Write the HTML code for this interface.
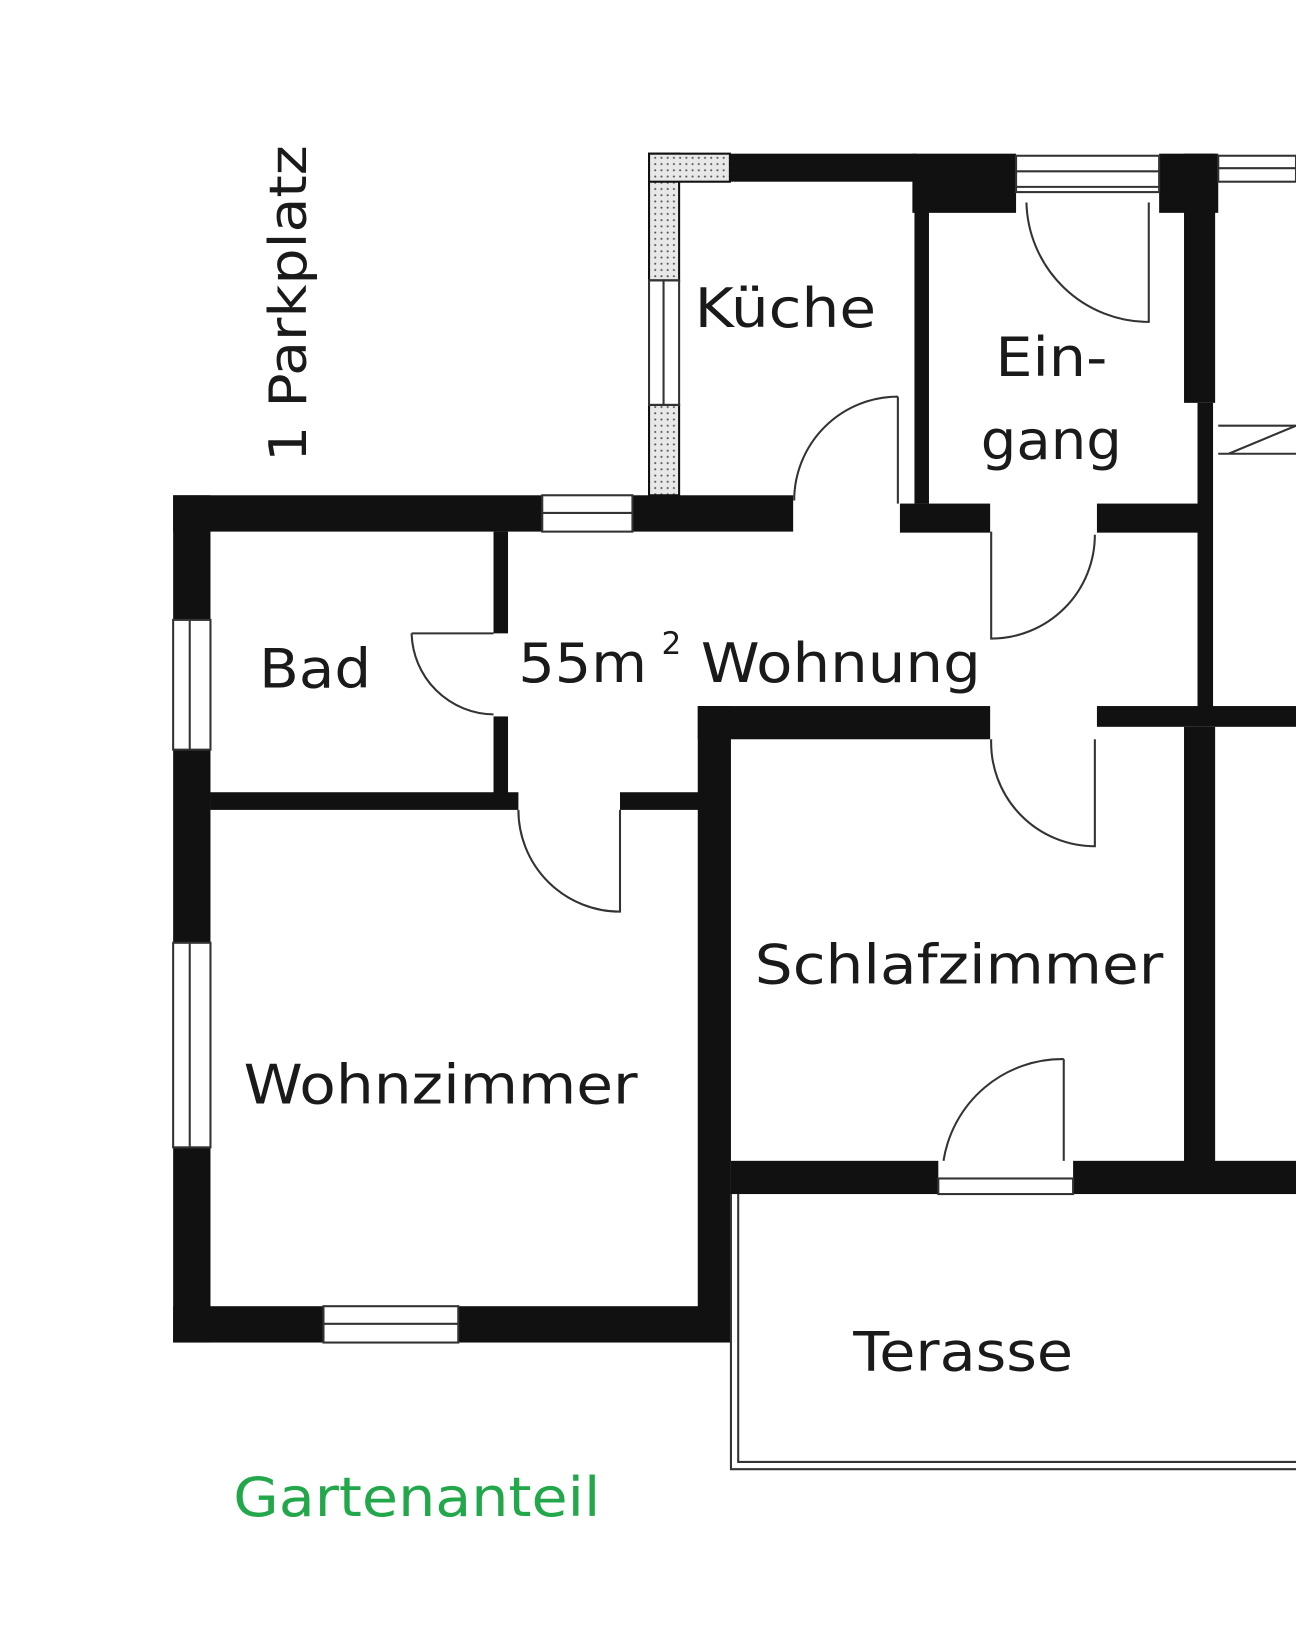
<!DOCTYPE html>
<html><head><meta charset="utf-8"><style>
html,body{margin:0;padding:0;background:#fff;}
svg{display:block;}
text{font-family:"DejaVu Sans","Liberation Sans",sans-serif;fill:#1a1a1a;}
</style></head><body>
<svg width="1296" height="1626" viewBox="0 0 1250 1566" preserveAspectRatio="none" xmlns="http://www.w3.org/2000/svg">
<defs>
<pattern id="dots" width="6" height="6" patternUnits="userSpaceOnUse">
<rect width="6" height="6" fill="#e8e8e8"/><circle cx="2" cy="2" r="1" fill="#555"/></pattern>
</defs>
<rect width="1250" height="1566" fill="#fff"/>
<g fill="#111">
<rect x="167" y="477" width="36" height="120"/>
<rect x="167" y="722" width="36" height="186"/>
<rect x="167" y="1105" width="36" height="188"/>
<rect x="167" y="477" width="356" height="35"/>
<rect x="610" y="477" width="155" height="35"/>
<rect x="868" y="485" width="87" height="28"/>
<rect x="1058" y="485" width="102" height="28"/>
<rect x="626" y="148" width="78" height="27"/>
<rect x="704" y="148" width="180" height="27"/>
<rect x="880" y="148" width="100" height="57"/>
<rect x="1118" y="148" width="57" height="57"/>
<rect x="882" y="175" width="14" height="310"/>
<rect x="1142" y="148" width="30" height="240"/>
<rect x="1155" y="388" width="15" height="300"/>
<rect x="1142" y="700" width="30" height="420"/>
<rect x="476" y="512" width="14" height="98"/>
<rect x="476" y="690" width="14" height="75"/>
<rect x="203" y="763" width="297" height="17"/>
<rect x="598" y="763" width="80" height="17"/>
<rect x="673" y="680" width="282" height="32"/>
<rect x="1058" y="680" width="192" height="20"/>
<rect x="673" y="680" width="32" height="612"/>
<rect x="705" y="1118" width="200" height="32"/>
<rect x="1035" y="1118" width="215" height="32"/>
<rect x="167" y="1258" width="145" height="35"/>
<rect x="442" y="1258" width="263" height="35"/>
</g>
<rect x="626" y="148" width="29" height="122" fill="url(#dots)" stroke="#111" stroke-width="2"/>
<rect x="626" y="390" width="29" height="87" fill="url(#dots)" stroke="#111" stroke-width="2"/>
<rect x="626" y="148" width="78" height="27" fill="url(#dots)" stroke="#111" stroke-width="2"/>
<g fill="none" stroke="#333" stroke-width="2">
<rect x="626" y="270" width="29" height="120"/><line x1="640" y1="270" x2="640" y2="390"/>
<rect x="523" y="477" width="87" height="35"/><line x1="523" y1="494" x2="610" y2="494"/>
<rect x="980" y="150" width="138" height="35"/><line x1="980" y1="165" x2="1118" y2="165"/><line x1="980" y1="180" x2="1118" y2="180"/>
<rect x="1175" y="150" width="75" height="25"/><line x1="1175" y1="162" x2="1250" y2="162"/>
<rect x="167" y="597" width="36" height="125"/><line x1="183" y1="597" x2="183" y2="722"/>
<rect x="167" y="908" width="36" height="197"/><line x1="183" y1="908" x2="183" y2="1105"/>
<rect x="312" y="1258" width="130" height="35"/><line x1="312" y1="1275" x2="442" y2="1275"/>
<rect x="905" y="1135" width="130" height="15"/>
<path d="M705 1150 V1415 H1250"/><path d="M712 1150 V1408 H1250"/>
<path d="M1175 410 H1250 M1175 437 H1250 M1185 437 L1250 410"/>
<path d="M1108 195 V310 A118 118 0 0 1 990 195"/>
<path d="M866 382 V485 M866 382 A100 100 0 0 0 766 482"/>
<path d="M956 512 V615 A100 100 0 0 0 1056 515"/>
<path d="M397 610 H476 M397 610 A80 80 0 0 0 476 688"/>
<path d="M598 780 V878 A98 98 0 0 1 500 780"/>
<path d="M1056 712 V815 A100 100 0 0 1 956 712"/>
<path d="M1026 1020 V1118 M1026 1020 A116 116 0 0 0 910 1118"/>
</g>
<text x="670" y="315" font-size="52" textLength="175" lengthAdjust="spacingAndGlyphs">Küche</text>
<text x="960" y="362" font-size="52" textLength="108" lengthAdjust="spacingAndGlyphs">Ein-</text>
<text x="946" y="442" font-size="52" textLength="136" lengthAdjust="spacingAndGlyphs">gang</text>
<text x="250" y="662" font-size="52" textLength="108" lengthAdjust="spacingAndGlyphs">Bad</text>
<text x="500" y="657" font-size="52" textLength="124" lengthAdjust="spacingAndGlyphs">55m</text>
<text x="638" y="630" font-size="30">2</text>
<text x="676" y="657" font-size="52" textLength="270" lengthAdjust="spacingAndGlyphs">Wohnung</text>
<text x="728" y="947" font-size="52" textLength="394" lengthAdjust="spacingAndGlyphs">Schlafzimmer</text>
<text x="235" y="1063" font-size="52" textLength="380" lengthAdjust="spacingAndGlyphs">Wohnzimmer</text>
<text x="823" y="1320" font-size="52" textLength="212" lengthAdjust="spacingAndGlyphs">Terasse</text>
<text x="225" y="1460" font-size="52" style="fill:#22a84a" textLength="354" lengthAdjust="spacingAndGlyphs">Gartenanteil</text>
<text transform="translate(295,445) rotate(-90)" font-size="50" textLength="305" lengthAdjust="spacingAndGlyphs">1 Parkplatz</text>
</svg>
</body></html>
